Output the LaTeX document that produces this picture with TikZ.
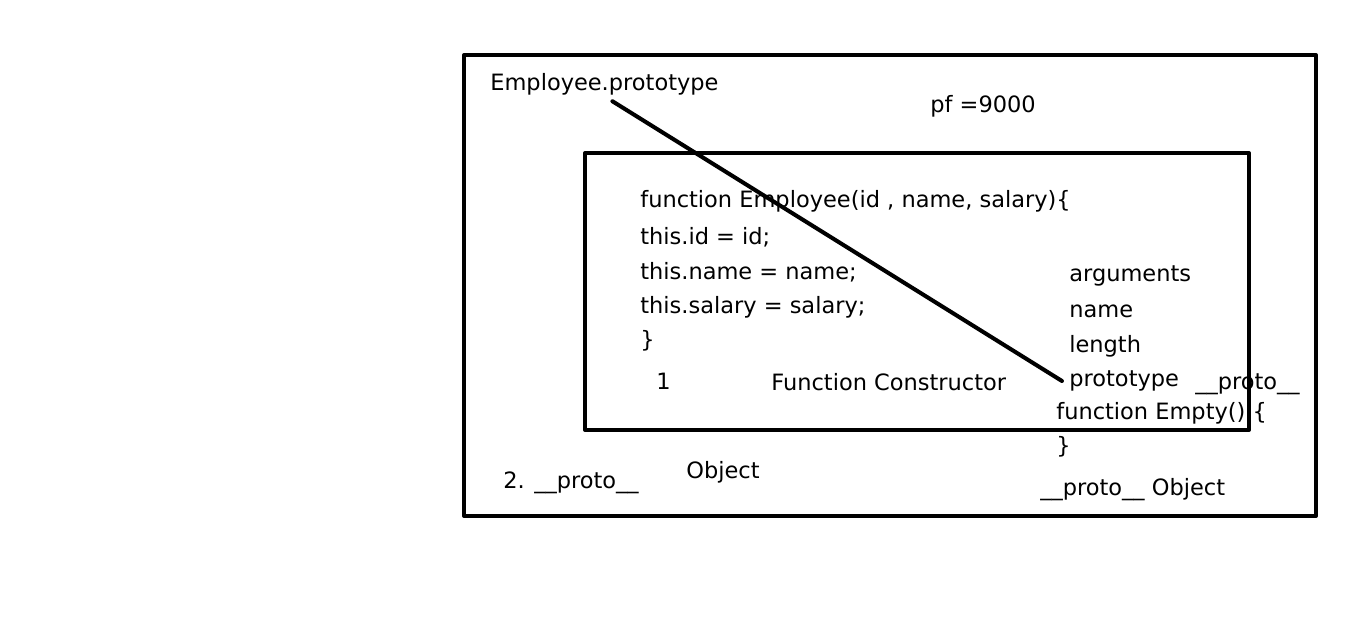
\documentclass[tikz,border=0pt]{standalone}
\usepackage{fontspec}
\setmainfont{DejaVu Sans}
\begin{document}
\begin{tikzpicture}[x=0.02cm,y=-0.02cm,line join = round, line cap = round,font=\fontsize{12.8}{14}\selectfont]
			\tikzset{lbl/.style={anchor=west,inner sep=0pt},
				box/.style={line width=2.3pt}}
			\useasboundingbox (0,0) rectangle (1357,636);
			\draw[box] (464,55) rectangle (1316,516);
			\draw[box] (585,153) rectangle (1249,430);
			
			\node[lbl] (emp) at (490,84) {Employee.prototype};
			\node[lbl] (pf) at (930,106) {pf =9000};
			\foreach \y/\t [count=\i] in {201/{function Employee(id , name, salary)\{},237/{this.id = id;},272/{this.name = name;},307/{this.salary = salary;},341/\}}
			{
				\node[lbl] (code\i) at (640,\y) {\t};
			}
			\node[lbl] (one) at (656,381) {1};
			\node[lbl] (fc) at (771,382) {Function Constructor};
			\foreach \y/\t in {276/arguments,311/name,346/length,381/prototype}
			{
				\node[lbl] (\t) at (1069,\y) {\t};
			}
			\node[lbl] (protoa) at (1195,384) {\_\_proto\_\_};
			\node[lbl] (empty) at (1056,413) {function Empty() \{};
			\node[lbl] (close) at (1056,447) {\}};
			\node[lbl] (protob) at (1040,490) {\_\_proto\_\_ Object};
			\node[lbl] (two) at (503,483) {2. \_\_proto\_\_};
			\node[lbl] (obj) at (686,472) {Object};
			
			\draw[box] (emp.south) ++(8,6) coordinate (s) (s) -- ([xshift=-4pt]prototype.west);
		\end{tikzpicture}
\end{document}
